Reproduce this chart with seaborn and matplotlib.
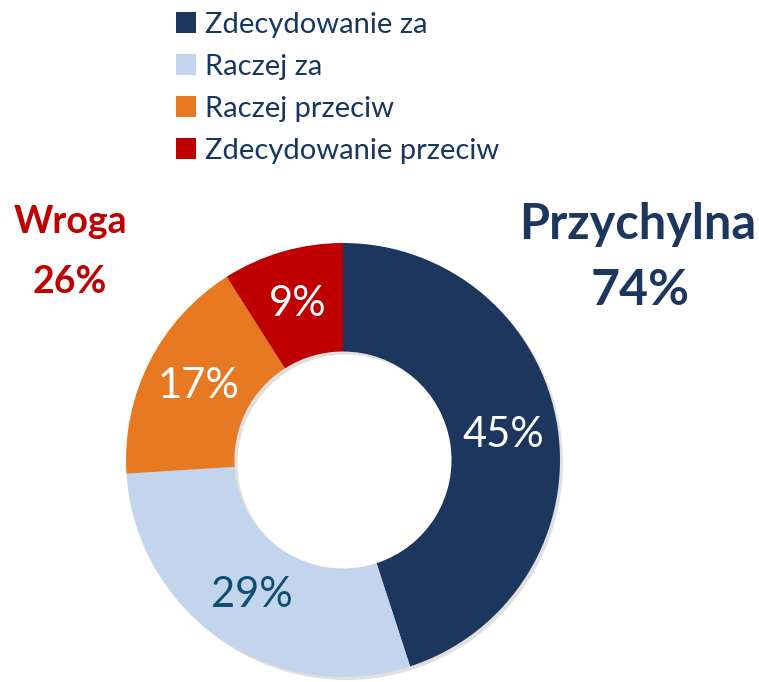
import matplotlib.pyplot as plt
from matplotlib.patches import Patch
import seaborn as sns

sns.set_theme(style="white")
plt.rcParams['font.family'] = ['Lato', 'DejaVu Sans']

categories = ["Zdecydowanie za", "Raczej za", "Raczej przeciw", "Zdecydowanie przeciw"]
values = [45, 29, 17, 9]
colors = ["#1C365E", "#C3D5EC", "#E87923", "#C00000"]
label_colors = ["white", "#0D4F6E", "white", "white"]
group_labels = ["Przychylna", "Wroga"]
group_values = [74, 26]

W, H = 759, 682
fig = plt.figure(figsize=(W / 100, H / 100), dpi=100)

cx, cy, r = 343, 460, 217
ax = fig.add_axes([(cx - r) / W, (H - cy - r) / H, 2 * r / W, 2 * r / H])

# soft drop shadow behind the ring
shadow, _ = ax.pie([1], colors=["#000000"], radius=1, center=(0.014, -0.014),
                   wedgeprops=dict(width=0.5, linewidth=0, alpha=0.12))
for s in shadow:
    s.set_clip_on(False)

wedges, texts, autotexts = ax.pie(
    values, colors=colors, startangle=90, counterclock=False,
    radius=1, wedgeprops=dict(width=0.5, linewidth=0),
    autopct="%d%%", pctdistance=0.75, textprops=dict(fontsize=30),
)
for t, c in zip(autotexts, label_colors):
    t.set_color(c)
for w in wedges:
    w.set_clip_on(False)
ax.set_xlim(-1, 1)
ax.set_ylim(-1, 1)
ax.axis("off")

navy = "#1C365E"
red = "#C00000"
fig.text(638 / W, 1 - 225 / H, group_labels[0], ha="center", va="center",
         fontsize=35, fontweight="bold", color=navy)
fig.text(640 / W, 1 - 290 / H, f"{group_values[0]}%", ha="center", va="center",
         fontsize=36, fontweight="bold", color=navy)
fig.text(70 / W, 1 - 222 / H, group_labels[1], ha="center", va="center",
         fontsize=27, fontweight="bold", color=red)
fig.text(70 / W, 1 - 282 / H, f"{group_values[1]}%", ha="center", va="center",
         fontsize=27, fontweight="bold", color=red)

handles = [Patch(facecolor=c, edgecolor="none") for c in colors]
leg = fig.legend(handles, categories, loc="upper left",
                 bbox_to_anchor=(164 / W, 1 - 0 / H), frameon=False,
                 fontsize=21, handlelength=0.7, handleheight=0.7,
                 handletextpad=0.3, labelspacing=0.55, borderaxespad=0)
for t in leg.get_texts():
    t.set_color("#17375E")

fig.savefig("out.png", dpi=100)
